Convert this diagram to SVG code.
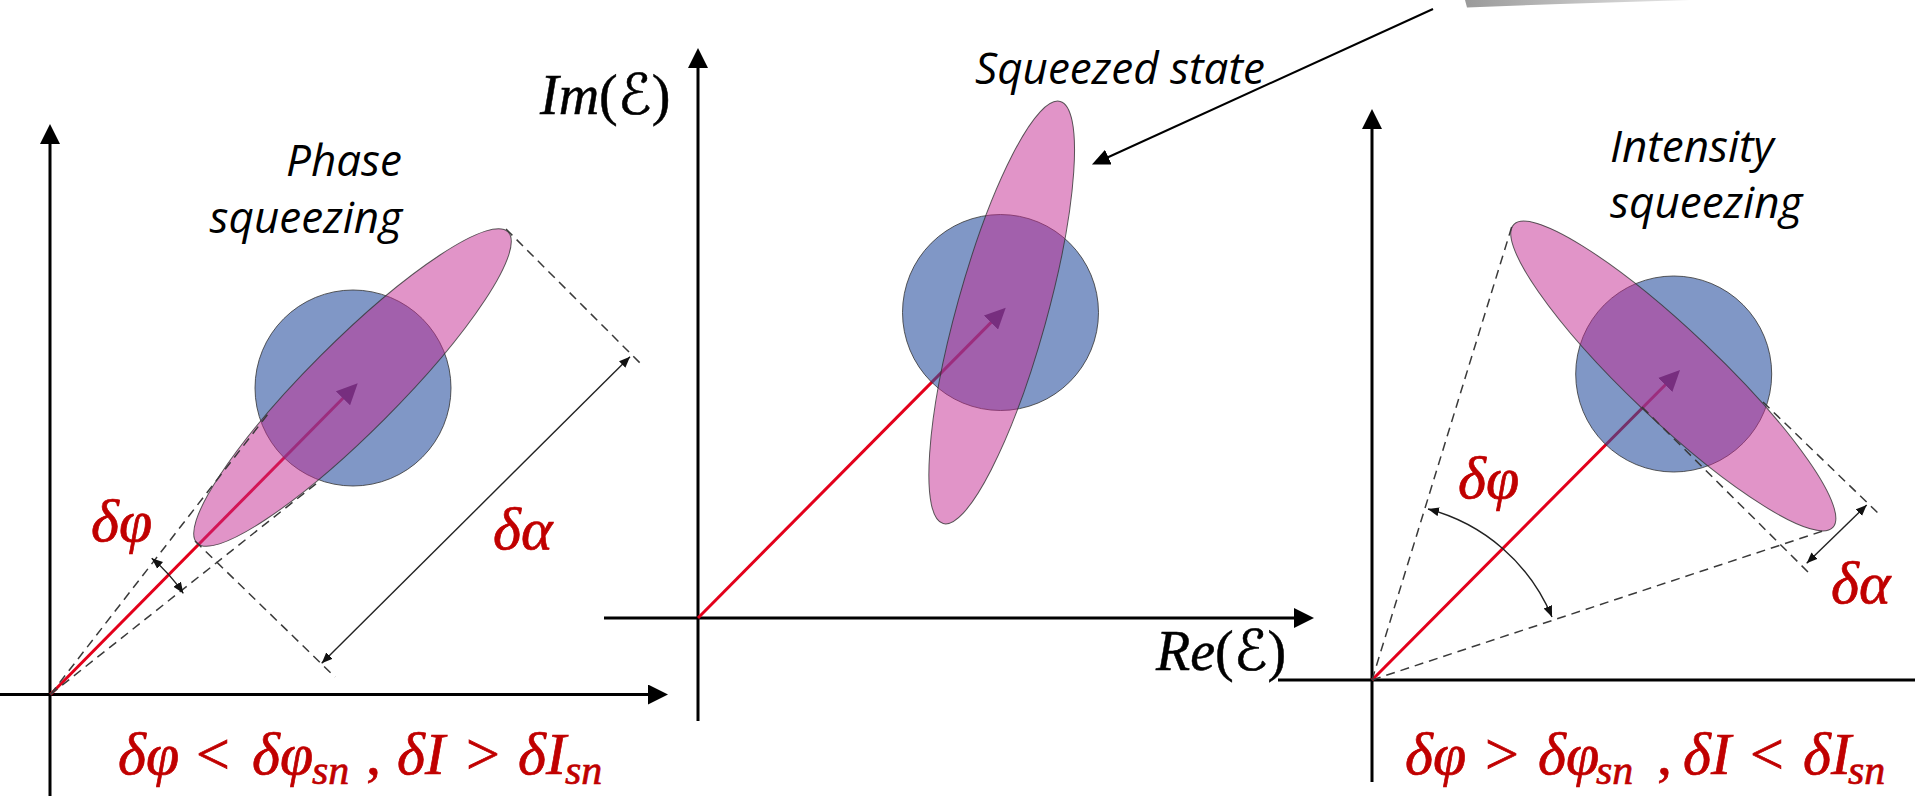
<svg xmlns="http://www.w3.org/2000/svg" width="1915" height="796" viewBox="0 0 1915 796">
<style>
.ax{stroke:#000;stroke-width:3;fill:none}
.dash{stroke:#3a3a3a;stroke-width:1.5;stroke-dasharray:9 6;fill:none}
.thin{stroke:#222;stroke-width:1.4;fill:none}
.vec{stroke:#e3001b;stroke-width:3;fill:none}
.blue{fill:#2b52a0;fill-opacity:0.6;stroke:#333;stroke-width:1;stroke-opacity:0.8}
.pink{fill:#c32991;fill-opacity:0.5;stroke:#333;stroke-width:1;stroke-opacity:0.8}
.lbl{font-family:"Open Sans","DejaVu Sans",sans-serif;font-style:italic;font-size:44px;fill:#000}
.axl{font-family:"Liberation Serif","DejaVu Serif","DejaVu Sans",serif;font-size:56px;fill:#000;stroke:#000;stroke-width:0.5}
.math{font-family:"Liberation Serif","DejaVu Serif",serif;font-style:italic;font-size:60px;fill:#c00000;stroke:#c00000;stroke-width:0.7}
.op{font-style:normal}
.sub{font-size:42px}
</style>
<defs>
<marker id="axHead" markerUnits="userSpaceOnUse" markerWidth="20" markerHeight="20" refX="14" refY="10" orient="auto">
<path d="M0,0 L20,10 L0,20 z" fill="#000"/>
</marker>
<marker id="vecHead" markerUnits="userSpaceOnUse" markerWidth="21" markerHeight="20" refX="14" refY="10" orient="auto">
<path d="M0,0 L21,10 L0,20 z" fill="#2a0420"/>
</marker>
<marker id="ptrHead" markerUnits="userSpaceOnUse" markerWidth="18" markerHeight="16" refX="13" refY="8" orient="auto">
<path d="M0,0 L18,8 L0,16 z" fill="#000"/>
</marker>
<marker id="sm" markerUnits="userSpaceOnUse" markerWidth="12" markerHeight="10" refX="11" refY="5" orient="auto-start-reverse">
<path d="M0,0.5 L11,5 L0,9.5 z" fill="#111"/>
</marker>
<linearGradient id="gr" x1="0" y1="0" x2="1" y2="0">
<stop offset="0" stop-color="#9a9a9a"/>
<stop offset="1" stop-color="#e6e6e6"/>
</linearGradient>
</defs>

<!-- cut-off gray shape at top -->
<polygon points="1465,0 1467,7.5 1560,4 1690,0" fill="url(#gr)"/>

<g id="axes">
<line class="ax" x1="50" y1="796" x2="50" y2="130" marker-end="url(#axHead)"/>
<line class="ax" x1="0" y1="694.5" x2="662" y2="694.5" marker-end="url(#axHead)"/>
<line class="ax" x1="698" y1="721" x2="698" y2="54" marker-end="url(#axHead)"/>
<line class="ax" x1="604" y1="618" x2="1308" y2="618" marker-end="url(#axHead)"/>
<line class="ax" x1="1372" y1="782" x2="1372" y2="115" marker-end="url(#axHead)"/>
<line class="ax" x1="1278" y1="680" x2="1915" y2="680"/>
</g>

<g id="vectors">
<line class="vec" x1="50.4" y1="694.5" x2="352.8" y2="388.3" marker-end="url(#vecHead)"/>
<line class="vec" x1="698" y1="618" x2="1000.8" y2="312.6" marker-end="url(#vecHead)"/>
<line class="vec" x1="1372" y1="680" x2="1675.1" y2="375" marker-end="url(#vecHead)"/>
</g>

<g id="coherent-states">
<circle class="blue" cx="353" cy="388" r="98"/>
<circle class="blue" cx="1000.5" cy="312.5" r="98"/>
<circle class="blue" cx="1673.7" cy="374" r="98"/>
</g>

<g id="squeezed-states">
<ellipse class="pink" cx="352.5" cy="387.5" rx="220" ry="45" transform="rotate(-45 352.5 387.5)"/>
<ellipse class="pink" cx="1001.7" cy="312.5" rx="219" ry="45" transform="rotate(-74.5 1001.7 312.5)"/>
<ellipse class="pink" cx="1673.3" cy="376" rx="220" ry="45" transform="rotate(43.5 1673.3 376)"/>
</g>

<g id="connectors">
<!-- left panel -->
<line class="dash" x1="50.4" y1="694.5" x2="268" y2="414"/>
<line class="dash" x1="50.4" y1="694.5" x2="317" y2="483"/>
<line class="dash" x1="506" y1="229" x2="642" y2="365"/>
<line class="dash" x1="195" y1="541" x2="335" y2="677"/>
<line class="thin" x1="630" y1="356.7" x2="321.7" y2="663.3" marker-start="url(#sm)" marker-end="url(#sm)"/>
<path class="thin" d="M151.7,558.3 A170,170 0 0 1 183.3,593.3" marker-start="url(#sm)" marker-end="url(#sm)"/>
<!-- right panel -->
<line class="dash" x1="1372" y1="680" x2="1512" y2="226"/>
<line class="dash" x1="1372" y1="680" x2="1826" y2="530"/>
<line class="dash" x1="1763" y1="402" x2="1878" y2="513"/>
<line class="dash" x1="1642" y1="407" x2="1808" y2="572"/>
<line class="thin" x1="1866.7" y1="505" x2="1806.7" y2="563.3" marker-start="url(#sm)" marker-end="url(#sm)"/>
<path class="thin" d="M1428,509 A185,185 0 0 1 1552,617" marker-start="url(#sm)" marker-end="url(#sm)"/>
<!-- pointer -->
<line x1="1433" y1="9" x2="1096.5" y2="162.5" stroke="#000" stroke-width="2" marker-end="url(#ptrHead)"/>
</g>

<g id="labels">
<text class="lbl" x="402" y="176" text-anchor="end">Phase</text>
<text class="lbl" x="402" y="233" text-anchor="end">squeezing</text>
<text class="lbl" x="975" y="84">Squeezed state</text>
<text class="lbl" x="1610" y="162">Intensity</text>
<text class="lbl" x="1610" y="218">squeezing</text>
<text class="axl" x="540" y="114"><tspan font-style="italic">Im</tspan>(ℰ)</text>
<text class="axl" x="1156" y="670"><tspan font-style="italic">Re</tspan>(ℰ)</text>
<text class="math" x="91" y="541">δφ</text>
<text class="math" x="493" y="549">δα</text>
<text class="math" x="1458" y="498">δφ</text>
<text class="math" x="1831" y="603">δα</text>
<text class="math" y="774"><tspan x="118">δφ</tspan><tspan x="196" class="op">&lt;</tspan><tspan x="252">δφ</tspan><tspan x="312" dy="10" class="sub">sn</tspan><tspan x="366" dy="-10" class="op">,</tspan><tspan x="397">δI</tspan><tspan x="466" class="op">&gt;</tspan><tspan x="518">δI</tspan><tspan x="565" dy="10" class="sub">sn</tspan></text>
<text class="math" y="774"><tspan x="1405">δφ</tspan><tspan x="1485" class="op">&gt;</tspan><tspan x="1538">δφ</tspan><tspan x="1596" dy="10" class="sub">sn</tspan><tspan x="1657" dy="-10" class="op">,</tspan><tspan x="1683">δI</tspan><tspan x="1750" class="op">&lt;</tspan><tspan x="1803">δI</tspan><tspan x="1848" dy="10" class="sub">sn</tspan></text>
</g>
</svg>
